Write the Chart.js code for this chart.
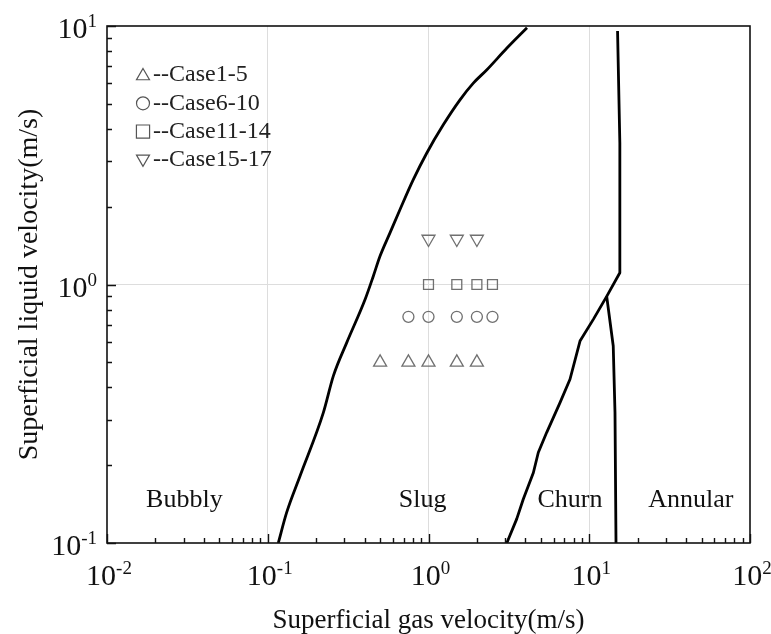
<!DOCTYPE html>
<html><head><meta charset="utf-8">
<script src="https://cdn.jsdelivr.net/npm/chart.js@4/dist/chart.umd.min.js"></script>
<style>html,body{margin:0;padding:0;background:#fff;}</style>
</head><body>
<canvas id="c" width="771" height="634"></canvas>
<script>
// ---- tick labels (base 10 with exponent) ----
const xTickValues = [0.01, 0.1, 1, 10, 100];
const xTickExponents = ['-2', '-1', '0', '1', '2'];
const yTickValues = [0.1, 1, 10];
const yTickExponents = ['-1', '0', '1'];

// ---- experimental cases ----
const caseLabels = ['--Case1-5', '--Case6-10', '--Case11-14', '--Case15-17'];
const case1_5_x = [0.5, 0.75, 1, 1.5, 2];
const case1_5_y = [0.5, 0.5, 0.5, 0.5, 0.5];
const case6_10_x = [0.75, 1, 1.5, 2, 2.5];
const case6_10_y = [0.75, 0.75, 0.75, 0.75, 0.75];
const case11_14_x = [1, 1.5, 2, 2.5];
const case11_14_y = [1, 1, 1, 1];
const case15_17_x = [1, 1.5, 2];
const case15_17_y = [1.5, 1.5, 1.5];

// ---- flow regime boundaries ----
const bubblySlugX = [0.1163, 0.131, 0.159, 0.222, 0.256, 0.310, 0.403, 0.4535, 0.499, 0.576, 0.665, 0.804, 0.974, 1.236, 1.57, 1.90, 2.30, 3.066, 4.10];
const bubblySlugY = [0.1, 0.131, 0.182, 0.320, 0.443, 0.596, 0.875, 1.077, 1.286, 1.584, 1.95, 2.544, 3.22, 4.147, 5.18, 6.01, 6.76, 8.20, 9.85];
const slugChurnX = [3.07, 3.54, 3.89, 4.49, 4.82, 5.44, 6.58, 7.59, 8.76, 10.6, 12.84, 15.5, 15.5, 15.0];
const slugChurnY = [0.1, 0.124, 0.148, 0.187, 0.224, 0.268, 0.349, 0.43, 0.604, 0.733, 0.90, 1.11, 3.53, 9.57];
const churnAnnularX = [12.84, 14.1, 14.46, 14.67];
const churnAnnularY = [0.90, 0.578, 0.32, 0.1];

// ---- region names ----
const regionNames = ['Bubbly', 'Slug', 'Churn', 'Annular'];
const regionX = [0.0303, 0.92, 7.59, 42.9];
const regionY = [0.138, 0.138, 0.138, 0.138];

const FONT = "'Liberation Serif', 'Times New Roman', serif";
const pts = (xs, ys) => xs.map((x, i) => ({x: x, y: ys[i]}));

function logTickValues(min, max) {
  const out = [];
  for (let e = Math.round(Math.log10(min)); e < Math.round(Math.log10(max)); e++) {
    for (let m = 1; m <= 9; m++) out.push(+(m * Math.pow(10, e)).toPrecision(6));
  }
  out.push(max);
  return out;
}
const isDecade = v => Math.abs(Math.log10(v) - Math.round(Math.log10(v))) < 1e-9;

const markerColor = '#707070';
function markerSet(label, data, style, radius, rot) {
  return {
    label: label, data: data, showLine: false,
    pointStyle: style, pointRotation: rot || 0,
    pointRadius: radius, pointHoverRadius: radius,
    pointBorderColor: markerColor, pointBackgroundColor: 'rgba(0,0,0,0)',
    borderColor: markerColor, backgroundColor: 'rgba(0,0,0,0)',
    pointBorderWidth: 1.3, borderWidth: 1.3
  };
}
function lineSet(label, data, mode) {
  return {
    label: label, data: data, showLine: true, pointRadius: 0, pointHoverRadius: 0,
    borderColor: '#000', backgroundColor: '#000', borderWidth: 2.8,
    tension: mode === 'smooth' ? 0.4 : 0, cubicInterpolationMode: mode === 'smooth' ? 'monotone' : 'default',
    fill: false, borderJoinStyle: 'round'
  };
}

// legend marker size per point style (radius in px)
const legendRadius = { triangle: 7.5, circle: 6.5, rect: 9.3 };

const overlay = {
  id: 'overlay',
  afterDraw(chart) {
    const ctx = chart.ctx, a = chart.chartArea;
    const xs = chart.scales.x, ys = chart.scales.y;
    ctx.save();
    // frame
    ctx.strokeStyle = '#111';
    ctx.lineWidth = 1.6;
    ctx.strokeRect(a.left, a.top, a.right - a.left, a.bottom - a.top);
    // inward ticks
    ctx.lineWidth = 1.4;
    ctx.beginPath();
    logTickValues(0.01, 100).forEach(v => {
      const p = Math.round(xs.getPixelForValue(v)) + 0.5;
      const len = isDecade(v) ? 9 : 5;
      ctx.moveTo(p, a.bottom); ctx.lineTo(p, a.bottom - len);
    });
    logTickValues(0.1, 10).forEach(v => {
      const p = Math.round(ys.getPixelForValue(v)) + 0.5;
      const len = isDecade(v) ? 9 : 5;
      ctx.moveTo(a.left, p); ctx.lineTo(a.left + len, p);
    });
    ctx.stroke();
    // tick labels with superscripts
    ctx.fillStyle = '#111';
    ctx.textBaseline = 'alphabetic';
    ctx.textAlign = 'left';
    const bigF = '30px ' + FONT, supF = '19px ' + FONT;
    xTickValues.forEach((v, i) => {
      ctx.font = bigF; const w1 = ctx.measureText('10').width;
      ctx.font = supF; const w2 = ctx.measureText(xTickExponents[i]).width;
      const px = xs.getPixelForValue(v);
      const x0 = px - (w1 + w2) / 2 + 2;
      ctx.font = bigF; ctx.fillText('10', x0, 585);
      ctx.font = supF; ctx.fillText(xTickExponents[i], x0 + w1, 574);
    });
    yTickValues.forEach((v, i) => {
      ctx.font = bigF; const w1 = ctx.measureText('10').width;
      ctx.font = supF; const w2 = ctx.measureText(yTickExponents[i]).width;
      const py = ys.getPixelForValue(v);
      const x0 = 97 - w1 - w2;
      ctx.font = bigF; ctx.fillText('10', x0, py + 12);
      ctx.font = supF; ctx.fillText(yTickExponents[i], x0 + w1, py + 1);
    });
    // regime names
    ctx.font = '26px ' + FONT;
    ctx.textAlign = 'center';
    regionNames.forEach((n, i) => {
      ctx.fillText(n, xs.getPixelForValue(regionX[i]), ys.getPixelForValue(regionY[i]));
    });
    // legend (from the case datasets)
    ctx.font = '24px ' + FONT;
    ctx.textAlign = 'left';
    ctx.textBaseline = 'middle';
    chart.data.datasets.slice(0, caseLabels.length).forEach((ds, i) => {
      const cy = a.top + 49 + i * 28.3;
      const cx = a.left + 36;
      ctx.strokeStyle = '#555';
      ctx.fillStyle = 'rgba(0,0,0,0)';
      ctx.lineWidth = 1.2;
      Chart.helpers.drawPoint(ctx, {
        pointStyle: ds.pointStyle, rotation: ds.pointRotation,
        radius: legendRadius[ds.pointStyle], borderWidth: 1.2
      }, cx, cy + (ds.pointStyle === 'triangle' ? (ds.pointRotation ? -1 : 1) : 0));
      ctx.fillStyle = '#222';
      ctx.fillText(ds.label, cx + 10, cy);
    });
    ctx.restore();
  }
};

Chart.defaults.font.family = FONT;
new Chart(document.getElementById('c'), {
  type: 'scatter',
  data: {
    datasets: [
      markerSet(caseLabels[0], pts(case1_5_x, case1_5_y), 'triangle', 7.5, 0),
      markerSet(caseLabels[1], pts(case6_10_x, case6_10_y), 'circle', 5.5, 0),
      markerSet(caseLabels[2], pts(case11_14_x, case11_14_y), 'rect', 7, 0),
      markerSet(caseLabels[3], pts(case15_17_x, case15_17_y), 'triangle', 7.5, 180),
      lineSet('Bubbly-Slug', pts(bubblySlugX, bubblySlugY), 'smooth'),
      lineSet('Slug-Churn', pts(slugChurnX, slugChurnY), 'straight'),
      lineSet('Churn-Annular', pts(churnAnnularX, churnAnnularY), 'straight')
    ]
  },
  options: {
    responsive: false, animation: false, devicePixelRatio: 1,
    layout: { padding: { left: 0, right: 21, top: 26, bottom: 0 } },
    plugins: {
      tooltip: { enabled: false },
      legend: { display: false }
    },
    scales: {
      x: {
        type: 'logarithmic', position: 'bottom', min: 0.01, max: 100,
        afterBuildTicks: s => { s.ticks = logTickValues(0.01, 100).map(v => ({value: v})); },
        afterFit: s => { s.height = 91; },
        ticks: { display: false },
        border: { display: false },
        grid: {
          drawTicks: false, lineWidth: 1,
          color: c => (c.tick && isDecade(c.tick.value) && c.tick.value > 0.011 && c.tick.value < 99) ? '#dddddd' : 'rgba(0,0,0,0)'
        },
        title: { display: true, text: 'Superficial gas velocity(m/s)', color: '#111',
                 font: { size: 27, family: FONT, lineHeight: 1.0 }, padding: { top: 0, bottom: 0 } }
      },
      y: {
        type: 'logarithmic', position: 'left', min: 0.1, max: 10,
        afterBuildTicks: s => { s.ticks = logTickValues(0.1, 10).map(v => ({value: v})); },
        afterFit: s => { s.width = 107; },
        ticks: { display: false },
        border: { display: false },
        grid: {
          drawTicks: false, lineWidth: 1,
          color: c => (c.tick && isDecade(c.tick.value) && c.tick.value > 0.11 && c.tick.value < 9.9) ? '#dddddd' : 'rgba(0,0,0,0)'
        },
        title: { display: true, text: 'Superficial liquid velocity(m/s)', color: '#111',
                 font: { size: 28, family: FONT, lineHeight: 1.0 }, padding: { top: 16, bottom: 0 } }
      }
    }
  },
  plugins: [overlay]
});
</script>
</body></html>
